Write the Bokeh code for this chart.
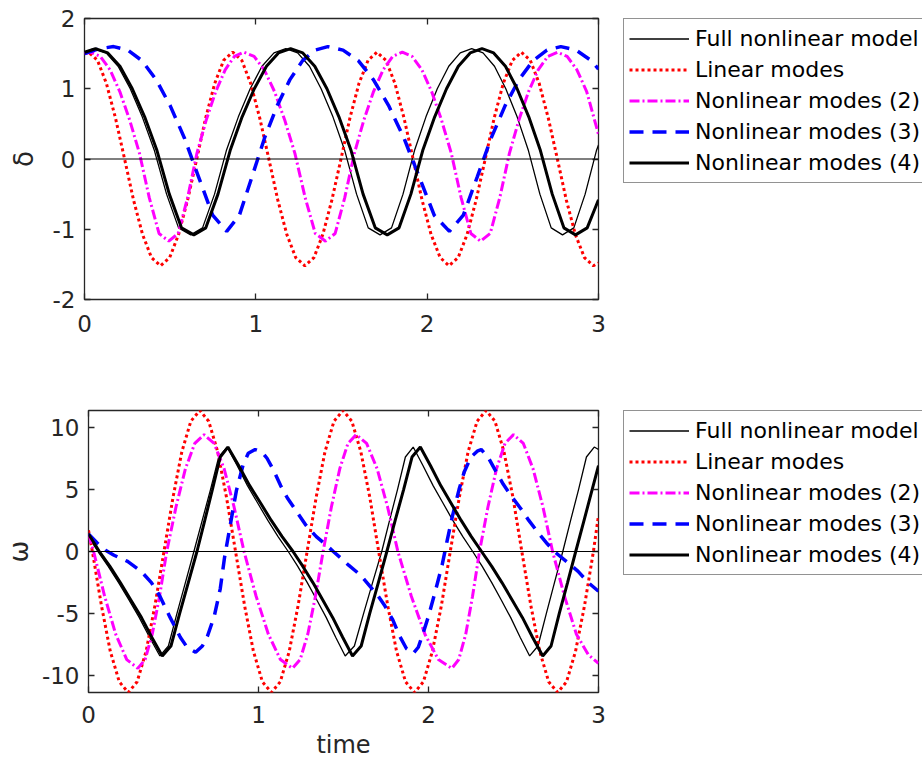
from bokeh.plotting import figure
from bokeh.models import Range1d, LinearAxis, FixedTicker, Span, Legend, LegendItem
from bokeh.layouts import column, row
from bokeh.embed import file_html
from bokeh.resources import INLINE

# ---------------- data ----------------
series_labels = ["Full nonlinear model", "Linear modes", "Nonlinear modes (2)",
                 "Nonlinear modes (3)", "Nonlinear modes (4)"]
x_ticks = [0, 1, 2, 3]
x_tick_labels = ["0", "1", "2", "3"]
delta_ticks = [-2, -1, 0, 1, 2]
delta_tick_labels = ["-2", "-1", "0", "1", "2"]
omega_ticks = [-10, -5, 0, 5, 10]
omega_tick_labels = ["-10", "-5", "0", "5", "10"]
time_range = [0, 3]
delta_range = [-2, 2]
omega_range = [-11.34, 11.34]

# ---- top panel: delta ----
t_full_delta = [0, 0.055, 0.126, 0.196, 0.267, 0.337, 0.408, 0.479, 0.549, 0.62,
                0.689, 0.759, 0.828, 0.898, 0.967, 1.036, 1.106, 1.175,
                1.244, 1.313, 1.381, 1.45, 1.519, 1.588, 1.656, 1.725,
                1.792, 1.859, 1.926, 1.993, 2.059, 2.126, 2.193, 2.26,
                2.326, 2.393, 2.459, 2.525, 2.591, 2.658, 2.724, 2.79,
                2.856, 2.922, 2.988, 3.0]
full_delta = [1.52, 1.57, 1.51, 1.32, 1.0, 0.6, 0.12, -0.5, -0.98, -1.08,
              -0.98, -0.5, 0.12, 0.6, 1.0, 1.32, 1.51, 1.57,
              1.51, 1.32, 1.0, 0.6, 0.12, -0.5, -0.98, -1.08,
              -0.98, -0.5, 0.12, 0.6, 1.0, 1.32, 1.51, 1.57,
              1.51, 1.32, 1.0, 0.6, 0.12, -0.5, -0.98, -1.08,
              -0.98, -0.5, 0.12, 0.2]

t_lin = [0, 0.023, 0.076, 0.128, 0.181, 0.234, 0.286, 0.339, 0.391, 0.444, 0.497, 0.549,
         0.602, 0.655, 0.707, 0.760, 0.812, 0.865, 0.918, 0.970, 1.023, 1.076, 1.128,
         1.181, 1.233, 1.286, 1.339, 1.391, 1.444, 1.497, 1.549, 1.602, 1.655, 1.707,
         1.760, 1.812, 1.865, 1.918, 1.970, 2.023, 2.076, 2.128, 2.181, 2.233, 2.286,
         2.339, 2.391, 2.444, 2.497, 2.549, 2.602, 2.654, 2.707, 2.760, 2.812, 2.865,
         2.918, 2.970, 3.0]
lin_delta = [1.50,
             1.52, 1.404, 1.075, 0.582, 0, -0.582, -1.075, -1.404,
             -1.52, -1.404, -1.075, -0.582, 0, 0.582, 1.075, 1.404,
             1.52, 1.404, 1.075, 0.582, 0, -0.582, -1.075, -1.404,
             -1.52, -1.404, -1.075, -0.582, 0, 0.582, 1.075, 1.404,
             1.52, 1.404, 1.075, 0.582, 0, -0.582, -1.075, -1.404,
             -1.52, -1.404, -1.075, -0.582, 0, 0.582, 1.075, 1.404,
             1.52, 1.404, 1.075, 0.582, 0, -0.582, -1.075, -1.404, -1.52,
             -1.48]

t_nl2_delta = [0, 0.035, 0.092, 0.149, 0.206, 0.263, 0.321, 0.378, 0.435, 0.492,
               0.547, 0.602, 0.656, 0.711, 0.766, 0.821, 0.875, 0.93,
               0.99, 1.049, 1.109, 1.168, 1.228, 1.288, 1.347, 1.407,
               1.463, 1.519, 1.575, 1.631, 1.687, 1.743, 1.799, 1.855,
               1.912, 1.969, 2.026, 2.083, 2.141, 2.198, 2.255, 2.312,
               2.368, 2.424, 2.48, 2.536, 2.592, 2.648, 2.704, 2.76,
               2.817, 2.874, 2.931, 3.0]
nl2_delta = [1.50, 1.52, 1.46, 1.27, 0.96, 0.56, 0.08, -0.55, -1.06, -1.17,
             -1.06, -0.55, 0.08, 0.56, 0.96, 1.27, 1.46, 1.52,
             1.46, 1.27, 0.96, 0.56, 0.08, -0.55, -1.06, -1.17,
             -1.06, -0.55, 0.08, 0.56, 0.96, 1.27, 1.46, 1.52,
             1.46, 1.27, 0.96, 0.56, 0.08, -0.55, -1.06, -1.17,
             -1.06, -0.55, 0.08, 0.56, 0.96, 1.27, 1.46, 1.52,
             1.46, 1.27, 0.96, 0.35]

t_nl3_delta = [0, 0.085, 0.17, 0.253, 0.335, 0.418, 0.5, 0.583, 0.665, 0.748, 0.83,
               0.904, 0.978, 1.051, 1.125, 1.199, 1.273, 1.346, 1.42,
               1.509, 1.598, 1.686, 1.775, 1.864, 1.953, 2.041, 2.13,
               2.211, 2.293, 2.374, 2.455, 2.536, 2.618, 2.699, 2.78,
               2.869, 2.958, 3.0]
nl3_delta = [1.5, 1.57, 1.6, 1.55, 1.40, 1.13, 0.76, 0.30, -0.25, -0.80, -1.03,
             -0.80, -0.25, 0.30, 0.76, 1.13, 1.40, 1.55, 1.6,
             1.55, 1.40, 1.13, 0.76, 0.30, -0.25, -0.80, -1.03,
             -0.80, -0.25, 0.30, 0.76, 1.13, 1.40, 1.55, 1.6,
             1.55, 1.40, 1.28]

t_nl4_delta = [0, 0.064, 0.136, 0.207, 0.279, 0.351, 0.423, 0.495, 0.566, 0.638,
               0.708, 0.779, 0.85, 0.92, 0.991, 1.062, 1.132, 1.203,
               1.274, 1.344, 1.415, 1.485, 1.556, 1.626, 1.697, 1.767,
               1.836, 1.905, 1.974, 2.044, 2.113, 2.182, 2.251, 2.32,
               2.388, 2.457, 2.525, 2.593, 2.661, 2.73, 2.798, 2.866,
               2.934, 3.0]
nl4_delta = [1.52, 1.57, 1.51, 1.32, 1.0, 0.6, 0.12, -0.5, -0.98, -1.08,
             -0.98, -0.5, 0.12, 0.6, 1.0, 1.32, 1.51, 1.57,
             1.51, 1.32, 1.0, 0.6, 0.12, -0.5, -0.98, -1.08,
             -0.98, -0.5, 0.12, 0.6, 1.0, 1.32, 1.51, 1.57,
             1.51, 1.32, 1.0, 0.6, 0.12, -0.5, -0.98, -1.08,
             -0.98, -0.58]

# ---- bottom panel: omega ----
t_full_omega = [0, 0.055, 0.116, 0.177, 0.238, 0.298, 0.359, 0.42, 0.47, 0.52, 0.57, 0.62,
                0.669, 0.718, 0.766, 0.815, 0.875, 0.935, 0.995, 1.055, 1.115, 1.175,
                1.231, 1.287, 1.343, 1.398, 1.454, 1.51, 1.564, 1.618, 1.671, 1.725,
                1.771, 1.818, 1.864, 1.91, 1.968, 2.027, 2.085, 2.143, 2.202, 2.26,
                2.316, 2.372, 2.428, 2.483, 2.539, 2.595, 2.644, 2.693, 2.741, 2.79,
                2.836, 2.883, 2.929, 2.975, 3.0]
full_omega = [1.2, 0, -1.2, -2.5, -3.9, -5.3, -6.9, -8.4, -7.6, -5.0, -2.5, 0,
              2.5, 5.0, 7.6, 8.4, 6.9, 5.3, 3.9, 2.5, 1.2, 0,
              -1.2, -2.5, -3.9, -5.3, -6.9, -8.4, -7.6, -5.0, -2.5, 0,
              2.5, 5.0, 7.6, 8.4, 6.9, 5.3, 3.9, 2.5, 1.2, 0,
              -1.2, -2.5, -3.9, -5.3, -6.9, -8.4, -7.6, -5.0, -2.5, 0,
              2.5, 5.0, 7.6, 8.4, 8.2]

lin_omega = [1.7,
             0, -4.34, -8.02, -10.48, -11.34, -10.48, -8.02, -4.34,
             0, 4.34, 8.02, 10.48, 11.34, 10.48, 8.02, 4.34,
             0, -4.34, -8.02, -10.48, -11.34, -10.48, -8.02, -4.34,
             0, 4.34, 8.02, 10.48, 11.34, 10.48, 8.02, 4.34,
             0, -4.34, -8.02, -10.48, -11.34, -10.48, -8.02, -4.34,
             0, 4.34, 8.02, 10.48, 11.34, 10.48, 8.02, 4.34,
             0, -4.34, -8.02, -10.48, -11.34, -10.48, -8.02, -4.34, 0,
             2.9]

t_nl2_omega = [0, 0.03, 0.095, 0.16, 0.225, 0.29, 0.333, 0.375, 0.418, 0.46,
               0.515, 0.57, 0.625, 0.68, 0.739, 0.798, 0.856, 0.915,
               0.986, 1.058, 1.129, 1.20, 1.245, 1.29, 1.335, 1.38,
               1.429, 1.478, 1.526, 1.575, 1.636, 1.698, 1.759, 1.82,
               1.899, 1.979, 2.058, 2.137, 2.178, 2.219, 2.259, 2.30,
               2.35, 2.40, 2.45, 2.50, 2.558, 2.615, 2.673, 2.73,
               2.80, 2.87, 2.94, 3.0]
nl2_omega = [1.4, 0, -3.6, -6.65, -8.69, -9.4, -8.69, -6.65, -3.6, 0,
             3.6, 6.65, 8.69, 9.4, 8.69, 6.65, 3.6, 0,
             -3.6, -6.65, -8.69, -9.4, -8.69, -6.65, -3.6, 0,
             3.6, 6.65, 8.69, 9.4, 8.69, 6.65, 3.6, 0,
             -3.6, -6.65, -8.69, -9.4, -8.69, -6.65, -3.6, 0,
             3.6, 6.65, 8.69, 9.4, 8.69, 6.65, 3.6, 0,
             -3.6, -6.65, -8.3, -9.0]

t_nl3_omega = [0, 0.05, 0.10, 0.15, 0.23, 0.31, 0.37, 0.42, 0.48, 0.54, 0.58, 0.63,
               0.67, 0.70, 0.74, 0.775, 0.80, 0.84, 0.87, 0.91, 0.94, 0.98, 1.02,
               1.05, 1.09, 1.13, 1.17, 1.22, 1.28, 1.34, 1.40, 1.44, 1.49, 1.53,
               1.60, 1.65, 1.70, 1.74, 1.79, 1.83, 1.87, 1.91, 1.94, 1.97, 2.0,
               2.04, 2.08, 2.11, 2.14, 2.18, 2.21, 2.25, 2.29, 2.31, 2.35, 2.39,
               2.44, 2.49, 2.54, 2.59, 2.64, 2.70, 2.74, 2.82, 2.88, 2.94, 3.0]
nl3_omega = [1.4, 0.7, 0.1, -0.3, -0.8, -1.6, -2.5, -3.6, -5.3, -6.9, -7.7, -8.1,
             -7.6, -6.8, -5.2, -3.0, -0.5, 2.6, 4.9, 7.0, 7.9, 8.2, 8.0,
             7.5, 6.5, 5.3, 4.3, 3.3, 2.1, 1.2, 0.5, 0.0, -0.6, -1.1,
             -1.9, -2.7, -3.5, -4.3, -5.5, -6.8, -7.8, -8.2, -7.7, -6.5, -5.2,
             -3.2, -1.1, 0.9, 2.8, 5.0, 6.4, 7.6, 8.1, 8.2, 7.6, 6.6,
             5.4, 4.4, 3.5, 2.5, 1.6, 0.6, 0.0, -0.9, -1.6, -2.5, -3.2]

t_nl4_omega = [0, 0.064, 0.126, 0.187, 0.249, 0.311, 0.372, 0.434, 0.485, 0.536, 0.587, 0.638,
               0.684, 0.729, 0.775, 0.82, 0.884, 0.948, 1.012, 1.075, 1.139, 1.203,
               1.261, 1.32, 1.378, 1.436, 1.495, 1.553, 1.604, 1.654, 1.705, 1.755,
               1.804, 1.854, 1.903, 1.952, 2.012, 2.072, 2.132, 2.192, 2.252, 2.312,
               2.372, 2.432, 2.492, 2.552, 2.612, 2.672, 2.721, 2.769, 2.818, 2.866,
               2.915, 2.963, 3.0]
nl4_omega = [1.4, 0, -1.2, -2.5, -3.9, -5.3, -6.9, -8.4, -7.6, -5.0, -2.5, 0,
             2.5, 5.0, 7.6, 8.4, 6.9, 5.3, 3.9, 2.5, 1.2, 0,
             -1.2, -2.5, -3.9, -5.3, -6.9, -8.4, -7.6, -5.0, -2.5, 0,
             2.5, 5.0, 7.6, 8.4, 6.9, 5.3, 3.9, 2.5, 1.2, 0,
             -1.2, -2.5, -3.9, -5.3, -6.9, -8.4, -7.6, -5.0, -2.5, 0,
             2.5, 5.0, 6.9]

# ---------------- styling ----------------
FONT = "DejaVu Sans"
AX = "#262626"
styles = [
    dict(line_color="black", line_width=1.3),
    dict(line_color="#ff0000", line_width=3, line_dash="3 3"),
    dict(line_color="#ff00ff", line_width=3, line_dash="10 3 2 3"),
    dict(line_color="#0000ff", line_width=3.5, line_dash="14 9"),
    dict(line_color="black", line_width=3),
]
TOTAL_W = 922
PLOT_W = 608
LEG_W = TOTAL_W - PLOT_W


def make_panel(series, y_rng, y_ticks, y_tick_labels, y_label, y_label_standoff,
               height, top_border, bottom_border, tick_standoff, x_label=None):
    p = figure(width=PLOT_W, height=height,
               x_range=Range1d(time_range[0], time_range[1]),
               y_range=Range1d(y_rng[0], y_rng[1]),
               output_backend="svg", toolbar_location=None,
               min_border_left=84, min_border_right=10,
               min_border_top=top_border, min_border_bottom=bottom_border,
               background_fill_color="white", border_fill_color="white")
    p.grid.visible = False
    p.outline_line_color = AX
    p.outline_line_width = 1.3

    xa = p.below[0]
    ya = p.left[0]
    for ax, ticks, labels in ((xa, x_ticks, x_tick_labels), (ya, y_ticks, y_tick_labels)):
        ax.ticker = FixedTicker(ticks=ticks, minor_ticks=[])
        ax.major_label_overrides = {t: s for t, s in zip(ticks, labels)}
        ax.major_tick_in = 6
        ax.major_tick_out = 0
        ax.major_tick_line_color = AX
        ax.major_tick_line_width = 1.3
        ax.minor_tick_line_color = None
        ax.axis_line_color = None
        ax.major_label_text_font = FONT
        ax.major_label_text_font_size = "23px"
        ax.major_label_text_color = AX
    xa.major_label_standoff = tick_standoff
    ya.major_label_standoff = 9
    ya.axis_label = y_label
    ya.axis_label_text_font = FONT
    ya.axis_label_text_font_size = "26px"
    ya.axis_label_text_font_style = "normal"
    ya.axis_label_text_color = AX
    ya.axis_label_standoff = y_label_standoff
    if x_label:
        xa.axis_label = x_label
        xa.axis_label_text_font = FONT
        xa.axis_label_text_font_size = "24px"
        xa.axis_label_text_font_style = "normal"
        xa.axis_label_text_color = AX
        xa.axis_label_standoff = 5

    # mirrored tick marks on top and right (box style)
    for side, ticks in (("above", x_ticks), ("right", y_ticks)):
        m = LinearAxis(ticker=FixedTicker(ticks=ticks, minor_ticks=[]),
                       major_label_overrides={t: "" for t in ticks},
                       major_tick_in=6, major_tick_out=0, major_label_standoff=0,
                       major_tick_line_color=AX, major_tick_line_width=1.3,
                       minor_tick_line_color=None, axis_line_color=None,
                       major_label_text_font_size="1px")
        p.add_layout(m, side)

    p.add_layout(Span(location=0, dimension="width", line_color="black", line_width=1.2))

    for (tx, ty), st in zip(series, styles):
        p.line(tx, ty, **st)
    return p


def make_legend_panel(series, height, legend_top):
    # companion canvas holding the legend to the right of the axes box;
    # its vertical range lies away from the data so only the legend shows
    q = figure(width=LEG_W, height=height,
               x_range=Range1d(time_range[0], time_range[1]), y_range=Range1d(100, 101),
               x_axis_type=None, y_axis_type=None, output_backend="svg",
               toolbar_location=None, min_border_left=15, min_border_right=0,
               min_border_top=legend_top, min_border_bottom=0,
               outline_line_color=None,
               background_fill_color="white", border_fill_color="white")
    q.grid.visible = False
    items = []
    for (tx, ty), lab, st in zip(series, series_labels, styles):
        r = q.line(tx, ty, **st)
        items.append(LegendItem(label=lab, renderers=[r]))
    leg = Legend(items=items, location="top_left",
                 label_text_font=FONT, label_text_font_size="22px", label_text_color="black",
                 glyph_width=60, glyph_height=29, label_height=29, label_standoff=6,
                 spacing=2, padding=5, margin=0,
                 border_line_color=AX, border_line_width=1,
                 background_fill_color="white", background_fill_alpha=1.0)
    q.add_layout(leg)
    return q


delta_series = [(t_full_delta, full_delta), (t_lin, lin_delta), (t_nl2_delta, nl2_delta),
                (t_nl3_delta, nl3_delta), (t_nl4_delta, nl4_delta)]
omega_series = [(t_full_omega, full_omega), (t_lin, lin_omega), (t_nl2_omega, nl2_omega),
                (t_nl3_omega, nl3_omega), (t_nl4_omega, nl4_omega)]

top = make_panel(delta_series, delta_range, delta_ticks, delta_tick_labels, "δ", 11,
                 height=368, top_border=18, bottom_border=69, tick_standoff=15)
bottom = make_panel(omega_series, omega_range, omega_ticks, omega_tick_labels, "ω", 5,
                    height=397, top_border=42, bottom_border=73, tick_standoff=13,
                    x_label="time")
top_leg = make_legend_panel(delta_series, 368, 17)
bottom_leg = make_legend_panel(omega_series, 397, 41)

layout = column(row(top, top_leg), row(bottom, bottom_leg))
open("out.html", "w").write(file_html(layout, INLINE))
